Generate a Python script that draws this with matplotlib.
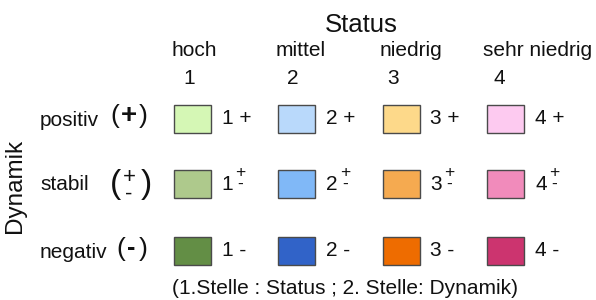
import matplotlib
matplotlib.use("Agg")
import matplotlib.pyplot as plt
from matplotlib.patches import Rectangle

plt.rcParams['font.family'] = ['Liberation Sans', 'DejaVu Sans']

status_names = ["hoch", "mittel", "niedrig", "sehr niedrig"]
status_codes = ["1", "2", "3", "4"]
dynamik_names = ["positiv", "stabil", "negativ"]
dynamik_codes = ["+", "±", "-"]
colors = [
    ["#d5f7b5", "#b9d9fb", "#fdd98a", "#fdcaf0"],
    ["#aec98c", "#80b8f7", "#f5aa50", "#f18bbb"],
    ["#638e45", "#3163c8", "#ee6c00", "#cc346f"],
]
title = "Status"
ylabel = "Dynamik"
footnote = "(1.Stelle : Status ; 2. Stelle: Dynamik)"

FS = 15
TC = "#111111"

fig = plt.figure(figsize=(5.96, 3.0), dpi=100)
ax = fig.add_axes([0, 0, 1, 1])
ax.set_xlim(0, 596)
ax.set_ylim(300, 0)
ax.axis("off")

x0, dx = 173.5, 104.5
y0, dy = 105, 66
bw, bh = 37, 28
name_offsets = [21, 23, 28, 51]
code_offsets = [16, 15, 11, 12]

for j, (nm, cd) in enumerate(zip(status_names, status_codes)):
    bx = x0 + j * dx
    ax.text(bx + name_offsets[j], 50, nm, ha="center", va="center", fontsize=FS, color=TC)
    ax.text(bx + code_offsets[j], 78, cd, ha="center", va="center", fontsize=FS, color=TC)

for i, (dn, dc) in enumerate(zip(dynamik_names, dynamik_codes)):
    by = y0 + i * dy - (1 if i == 1 else 0)
    yc = by + bh / 2
    ax.text(40, yc + 1, dn, ha="left", va="center", fontsize=FS, color=TC)
    # symbol in parentheses
    if dc == "±":
        ax.text(115, yc + 1, "(", ha="center", va="center", fontsize=24, color=TC)
        ax.text(146, yc + 1, ")", ha="center", va="center", fontsize=24, color=TC)
        ax.text(129, yc + 2, "+\n-", ha="center", va="center", fontsize=16,
                linespacing=0.75, color=TC)
    elif dc == "+":
        ax.text(114.5, yc - 3, "(", ha="center", va="center", fontsize=19, color=TC)
        ax.text(143.5, yc - 3, ")", ha="center", va="center", fontsize=19, color=TC)
        ax.text(129, yc - 3, "+", ha="center", va="center", fontsize=20,
                fontweight="bold", color=TC)
    else:
        ax.text(121, yc - 2, "(", ha="center", va="center", fontsize=19, color=TC)
        ax.text(143.5, yc - 2, ")", ha="center", va="center", fontsize=19, color=TC)
        ax.text(131.5, yc - 3, "-", ha="center", va="center", fontsize=18,
                fontweight="bold", color=TC)
    for j in range(len(status_names)):
        bx = x0 + j * dx
        ax.add_patch(Rectangle((bx, by), bw, bh, facecolor=colors[i][j],
                               edgecolor="#4a4a4a", linewidth=1.0))
        if dc == "±":
            ax.text(bx + bw + 11, yc, status_codes[j], ha="left", va="center",
                    fontsize=FS, color=TC)
            ax.text(bx + bw + 30, yc - 5.5, "+\n-", ha="center", va="center",
                    fontsize=12.5, linespacing=0.72, color=TC)
        else:
            ax.text(bx + bw + 11, yc - 1, f"{status_codes[j]} {dc}", ha="left",
                    va="center", fontsize=FS, color=TC)

ax.text(361, 25, title, ha="center", va="center", fontsize=18.5, color=TC)
ax.text(15, 186, ylabel, ha="center", va="center", fontsize=17.5, rotation=90, color=TC)
ax.text(345, 288, footnote, ha="center", va="center", fontsize=FS, color=TC)

fig.savefig("out.png", dpi=100, facecolor="white")
